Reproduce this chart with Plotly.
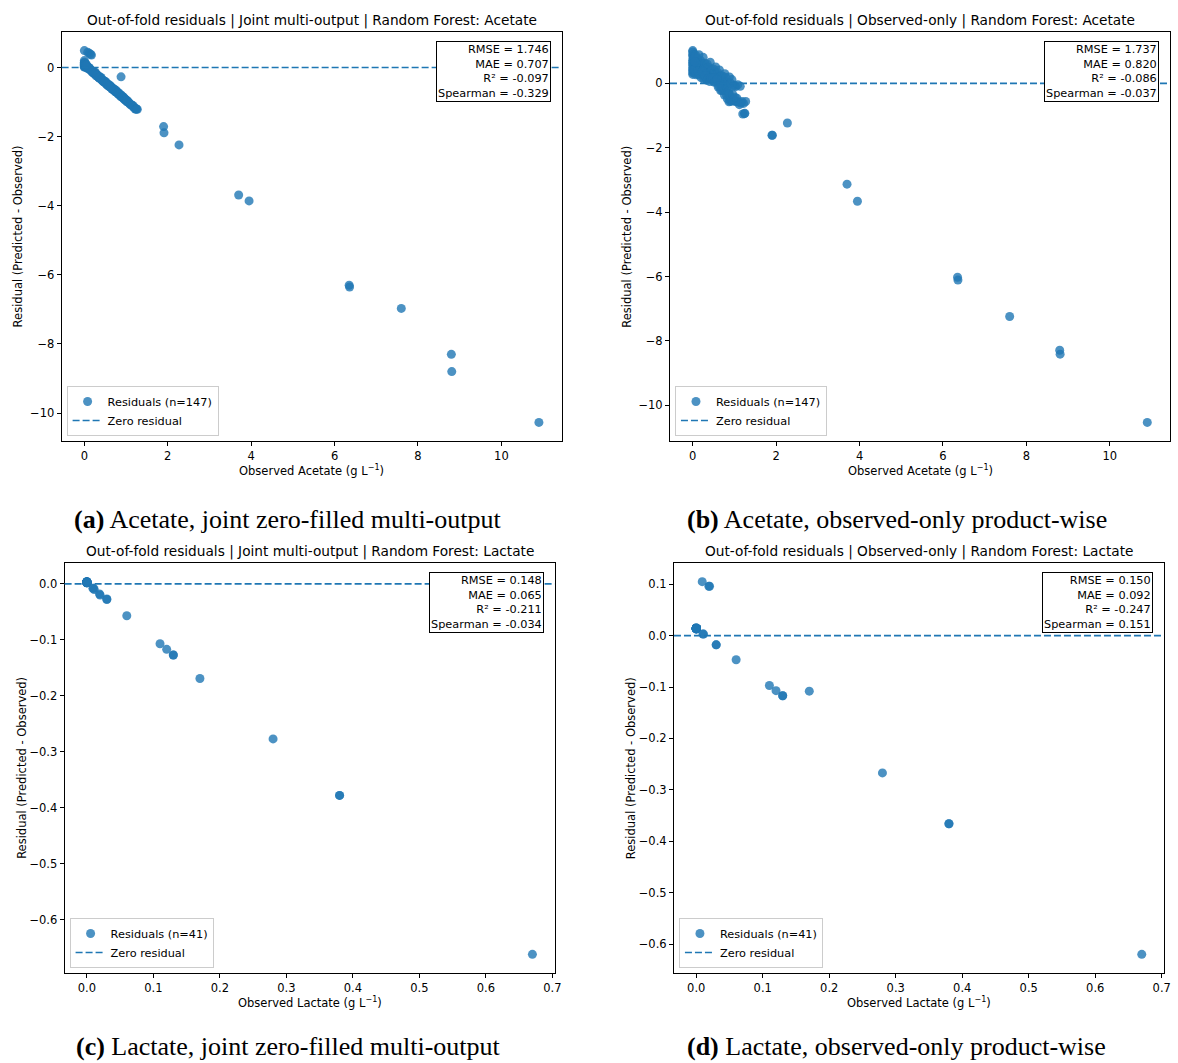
import numpy as np
import plotly.graph_objects as go

W, H = 1178, 1063

# ---------------- data ----------------
acetate_observed = [
    0.00, 0.00, 0.00, 0.00, 0.00, 0.00, 0.00, 0.00, 0.00, 0.00,
    0.00, 0.00, 0.01, 0.01, 0.02, 0.02, 0.03, 0.04, 0.05, 0.06,
    0.07, 0.08, 0.09, 0.10, 0.11, 0.12, 0.13, 0.14, 0.15, 0.17,
    0.18, 0.19, 0.21, 0.22, 0.24, 0.25, 0.26, 0.28, 0.29, 0.31,
    0.32, 0.33, 0.35, 0.36, 0.38, 0.39, 0.40, 0.42, 0.43, 0.45,
    0.46, 0.47, 0.48, 0.50, 0.51, 0.52, 0.54, 0.55, 0.56, 0.57,
    0.59, 0.60, 0.61, 0.62, 0.64, 0.65, 0.66, 0.67, 0.68, 0.69,
    0.70, 0.71, 0.72, 0.73, 0.74, 0.75, 0.76, 0.77, 0.78, 0.79,
    0.80, 0.81, 0.82, 0.83, 0.84, 0.85, 0.86, 0.87, 0.88, 0.89,
    0.90, 0.91, 0.92, 0.93, 0.88, 0.94, 0.95, 0.96, 0.97, 0.98,
    0.99, 1.00, 1.01, 1.02, 1.03, 1.05, 1.06, 1.08, 1.10, 1.12,
    1.14, 1.16, 1.18, 1.20, 1.22, 1.24, 1.25, 1.27, 0.03, 0.05,
    0.08, 0.12, 0.16, 0.20, 0.23, 0.27, 0.30, 0.34, 0.37, 0.41,
    0.44, 0.49, 0.53, 0.58, 0.63, 0.05, 1.90, 1.91, 2.27, 3.70,
    3.95, 6.35, 6.36, 7.60, 8.80, 8.81, 10.90,
]
# Out-of-fold predictions, joint zero-filled multi-output model
acetate_pred_joint = [
    0.02, 0.05, 0.08, 0.10, 0.12, 0.15, 0.49, 0.06, 0.20, 0.01,
    0.09, 0.13, 0.11, 0.07, 0.04, 0.14, 0.10, 0.06, 0.12, 0.08,
    0.05, 0.52, 0.09, 0.07, 0.11, 0.53, 0.06, 0.10, 0.53, 0.53,
    0.08, 0.05, 0.10, 0.07, 0.06, 0.09, 0.12, 0.04, 0.08, 0.07,
    0.06, 0.10, 0.08, 0.05, 0.09, 0.07, 0.11, 0.06, 0.08, 0.04,
    0.07, 0.09, 0.05, 0.08, 0.10, 0.06, 0.04, 0.09, 0.07, 0.05,
    0.08, 0.06, 0.10, 0.05, 0.07, 0.09, 0.04, 0.06, 0.08, 0.07,
    0.05, 0.09, 0.06, 0.08, 0.04, 0.07, 0.10, 0.05, 0.06, 0.08,
    0.07, 0.04, 0.09, 0.06, 0.05, 0.08, 0.07, 0.03, 0.06, 0.09,
    0.05, 0.07, 0.04, 0.06, 0.61, 0.08, 0.05, 0.03, 0.07, 0.06,
    0.04, 0.06, 0.05, 0.03, 0.07, 0.04, 0.06, 0.05, 0.03, 0.05,
    0.04, 0.06, 0.03, 0.05, 0.02, 0.04, 0.05, 0.06, 0.12, 0.09,
    0.08, 0.10, 0.07, 0.09, 0.06, 0.11, 0.08, 0.05, 0.09, 0.07,
    0.06, 0.08, 0.05, 0.04, 0.07, 0.13, 0.19, 0.02, 0.03, 0.01,
    0.09, 0.05, 0.01, 0.63, 0.50, 0.01, 0.63,
]
# Out-of-fold predictions, observed-only product-wise model
acetate_pred_observed_only = [
    0.98, 0.85, 0.72, 0.60, 0.45, 0.33, 0.90, 0.55, 0.40, 0.28,
    1.02, 0.66, 0.78, 0.50, 0.93, 0.36, 0.70, 0.82, 0.47, 0.62,
    0.95, 0.58, 0.74, 0.40, 0.88, 0.67, 0.52, 0.80, 1.04, 0.63,
    0.72, 0.90, 0.55, 0.85, 0.66, 1.06, 0.48, 0.78, 0.92, 0.60,
    0.80, 0.46, 0.95, 0.70, 0.88, 0.58, 0.74, 1.08, 0.65, 0.83,
    0.90, 0.62, 0.78, 0.95, 0.55, 0.85, 0.72, 1.06, 0.66, 0.88,
    0.75, 0.93, 0.50, 0.82, 1.06, 0.63, 0.88, 0.45, 0.70, 0.92,
    0.48, 0.85, 0.60, 0.95, 0.52, 0.78, 0.40, 1.07, 0.58, 0.74,
    0.98, 0.45, 0.70, 0.35, 0.88, 0.55, 0.62, 0.30, 1.08, 0.42,
    0.35, 0.92, 0.48, 0.38, 0.55, 1.06, 0.45, 0.62, 0.43, 0.90,
    0.50, 0.45, 0.95, 0.58, 0.93, 0.48, 0.60, 1.04, 0.52, 0.46,
    1.05, 0.55, 0.62, 0.25, 0.60, 0.30, 0.32, 0.71, 0.45, 0.88,
    0.35, 0.50, 0.42, 0.38, 0.60, 0.40, 0.55, 0.44, 0.52, 0.47,
    0.60, 0.65, 0.58, 0.70, 0.55, 0.72, 0.29, 0.30, 1.04, 0.57,
    0.29, 0.33, 0.25, 0.36, 0.51, 0.40, 0.37,
]

lactate_observed = [
    0.0, 0.0, 0.0, 0.0, 0.0, 0.0, 0.0, 0.0, 0.0, 0.0, 0.0, 0.0,
    0.0, 0.0, 0.0, 0.0, 0.0, 0.0, 0.0, 0.0, 0.0, 0.0, 0.0, 0.0,
    0.009, 0.010, 0.011, 0.019, 0.020, 0.030, 0.030, 0.060, 0.110,
    0.120, 0.130, 0.130, 0.170, 0.280, 0.380, 0.380, 0.670,
]
lactate_pred_joint = [
    0.003, 0.003, 0.002, 0.003, 0.004, 0.003, 0.003, 0.002, 0.003, 0.003, 0.004, 0.003,
    0.003, 0.002, 0.003, 0.003, 0.003, 0.004, 0.003, 0.003, 0.002, 0.003, 0.003, 0.003,
    0.001, 0.002, 0.001, 0.001, 0.000, 0.003, 0.002, 0.003, 0.003,
    0.003, 0.003, 0.003, 0.001, 0.003, 0.002, 0.002, 0.008,
]
lactate_pred_observed_only = [
    0.014, 0.014, 0.013, 0.014, 0.015, 0.014, 0.014, 0.013, 0.014, 0.014, 0.015, 0.014,
    0.014, 0.013, 0.014, 0.014, 0.014, 0.015, 0.014, 0.014, 0.013, 0.014, 0.014, 0.014,
    0.114, 0.013, 0.014, 0.115, 0.116, 0.012, 0.012, 0.013, 0.013,
    0.013, 0.013, 0.013, 0.062, 0.013, 0.014, 0.014, 0.050,
]

panel_titles = [
    "Out-of-fold residuals | Joint multi-output | Random Forest: Acetate",
    "Out-of-fold residuals | Observed-only | Random Forest: Acetate",
    "Out-of-fold residuals | Joint multi-output | Random Forest: Lactate",
    "Out-of-fold residuals | Observed-only | Random Forest: Lactate",
]
stats_texts = [
    "RMSE = 1.746<br>MAE = 0.707<br>R² = -0.097<br>Spearman = -0.329",
    "RMSE = 1.737<br>MAE = 0.820<br>R² = -0.086<br>Spearman = -0.037",
    "RMSE = 0.148<br>MAE = 0.065<br>R² = -0.211<br>Spearman = -0.034",
    "RMSE = 0.150<br>MAE = 0.092<br>R² = -0.247<br>Spearman = 0.151",
]
x_labels = [
    "Observed Acetate (g L<sup>−1</sup>)", "Observed Acetate (g L<sup>−1</sup>)",
    "Observed Lactate (g L<sup>−1</sup>)", "Observed Lactate (g L<sup>−1</sup>)",
]
y_label = "Residual (Predicted - Observed)"
captions = [
    "<b>(a)</b> Acetate, joint zero-filled multi-output",
    "<b>(b)</b> Acetate, observed-only product-wise",
    "<b>(c)</b> Lactate, joint zero-filled multi-output",
    "<b>(d)</b> Lactate, observed-only product-wise",
]

# ---------------- layout geometry (pixels) ----------------
boxes = [  # left, top, right, bottom of plot area
    (62, 32, 565, 441),
    (674, 32, 1177, 441),
    (65, 563, 558, 973),
    (678, 563, 1171, 973),
]
tick_steps = [(2, 2), (2, 2), (0.1, 0.1), (0.1, 0.1)]
tick_formats = [("d", "d"), ("d", "d"), (".1f", ".1f"), (".1f", ".1f")]
caption_pos = [(289, 519), (902, 519), (290, 1046), (902, 1046)]

panels = [
    (acetate_observed, acetate_pred_joint),
    (acetate_observed, acetate_pred_observed_only),
    (lactate_observed, lactate_pred_joint),
    (lactate_observed, lactate_pred_observed_only),
]

BLUE = "#1f77b4"
FONT = "DejaVu Sans"


def fx(px):
    return px / W


def fy(py):
    return 1 - py / H


fig = go.Figure()
layout = dict(
    width=W, height=H, autosize=False,
    margin=dict(l=0, r=0, t=0, b=0),
    paper_bgcolor="white", plot_bgcolor="white",
    font=dict(family=FONT, size=11, color="black"),
    annotations=[], shapes=[],
)

for i, ((obs, pred), box) in enumerate(zip(panels, boxes)):
    k = "" if i == 0 else str(i + 1)
    obs = np.asarray(obs, dtype=float)
    resid = np.asarray(pred, dtype=float) - obs
    l, t, r, b = box

    xmin, xmax = obs.min(), obs.max()
    ymin, ymax = resid.min(), resid.max()
    xm, ym = 0.05 * (xmax - xmin), 0.05 * (ymax - ymin)

    leg = "legend" + k
    fig.add_trace(go.Scatter(
        x=obs, y=resid, mode="markers",
        xaxis="x" + k, yaxis="y" + k, legend=leg,
        name=f"Residuals (n={len(obs)})",
        marker=dict(color=BLUE, size=9, opacity=0.8, line=dict(width=0)),
        hoverinfo="skip",
    ))

    axis_common = dict(
        showline=True, linecolor="black", linewidth=1, mirror=True,
        ticks="outside", ticklen=4, tickwidth=1, tickcolor="black",
        showgrid=False, zeroline=False,
        tickfont=dict(family=FONT, size=11.5, color="black"),
    )
    layout["xaxis" + k] = dict(
        axis_common, domain=[fx(l), fx(r)], anchor="y" + k,
        range=[xmin - xm, xmax + xm], dtick=tick_steps[i][0], tick0=0,
        tickformat=tick_formats[i][0],
    )
    layout["yaxis" + k] = dict(
        axis_common, domain=[fy(b), fy(t)], anchor="x" + k,
        range=[ymin - ym, ymax + ym], dtick=tick_steps[i][1], tick0=0,
        tickformat=tick_formats[i][1],
    )

    # zero residual reference line (axhline)
    layout["shapes"].append(dict(
        type="line", xref="x" + k + " domain", yref="y" + k,
        x0=0, x1=1, y0=0, y1=0,
        line=dict(color=BLUE, width=1.7, dash="7px,3px"),
        showlegend=True, legend=leg, name="Zero residual",
    ))

    # legend box
    layout[leg] = dict(
        x=fx(l + 5), y=fy(b - 5), xanchor="left", yanchor="bottom",
        bgcolor="rgba(255,255,255,0.8)", bordercolor="#cccccc", borderwidth=1,
        font=dict(family=FONT, size=11.3, color="black"),
        itemwidth=30, tracegroupgap=0,
    )

    cx = (l + r) / 2
    # title
    layout["annotations"].append(dict(
        text=panel_titles[i], xref="paper", yref="paper",
        x=fx(cx), y=fy(t - 12), xanchor="center", yanchor="middle",
        showarrow=False, font=dict(family=FONT, size=13.7, color="black"),
    ))
    # x label
    layout["annotations"].append(dict(
        text=x_labels[i], xref="paper", yref="paper",
        x=fx(cx), y=fy(b + 29), xanchor="center", yanchor="middle",
        showarrow=False, font=dict(family=FONT, size=11.5, color="black"),
    ))
    # y label
    layout["annotations"].append(dict(
        text=y_label, xref="paper", yref="paper", textangle=-90,
        x=fx(l - 43), y=fy((t + b) / 2), xanchor="center", yanchor="middle",
        showarrow=False, font=dict(family=FONT, size=11.5, color="black"),
    ))
    # stats box
    layout["annotations"].append(dict(
        text=stats_texts[i], xref="paper", yref="paper", align="right",
        x=fx(r - 11), y=fy(t + 9), xanchor="right", yanchor="top",
        showarrow=False, bgcolor="white", bordercolor="black", borderwidth=1,
        borderpad=1, font=dict(family=FONT, size=11.3, color="black"),
    ))
    # caption
    layout["annotations"].append(dict(
        text=captions[i], xref="paper", yref="paper",
        x=fx(caption_pos[i][0]), y=fy(caption_pos[i][1]),
        xanchor="center", yanchor="middle",
        showarrow=False, font=dict(family="Liberation Serif", size=26, color="black"),
    ))

fig.update_layout(**layout)
fig.write_html("out.html")
